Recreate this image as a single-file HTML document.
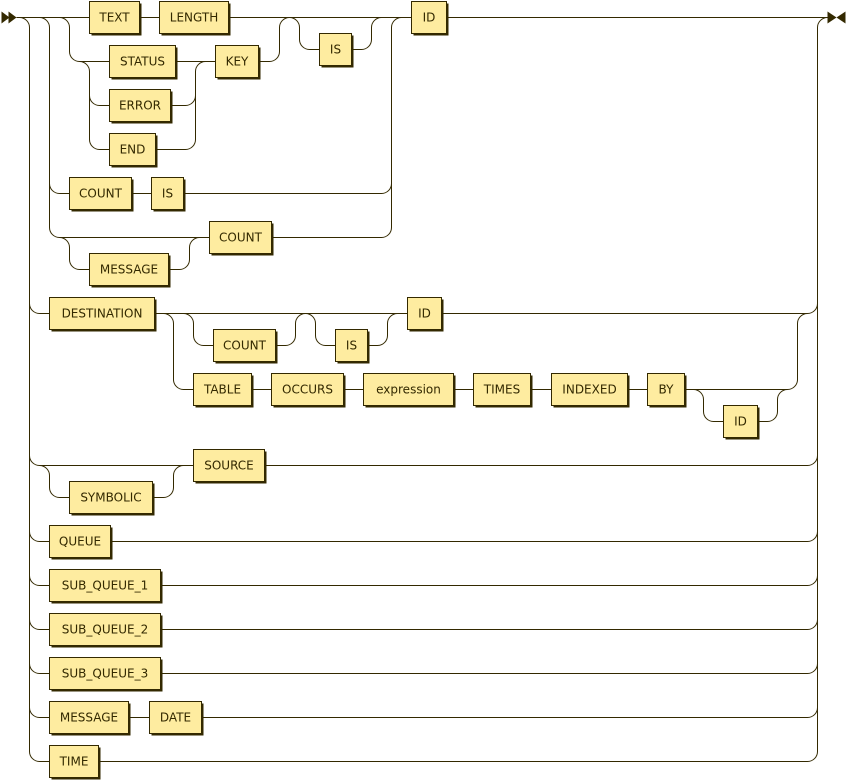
<!DOCTYPE html>
<html><head><meta charset="utf-8"><style>
html,body{margin:0;padding:0;background:#fff;}
svg{display:block;}
.l{fill:none;stroke:#332900;stroke-width:1;}
.b{fill:#feeca0;stroke:#332900;stroke-width:1;}
.s{fill:#332900;}
text{font-family:"DejaVu Sans","Liberation Sans",sans-serif;font-size:12px;fill:#332900;text-anchor:middle;}
</style></head><body>
<svg width="847" height="781" viewBox="0 0 847 781" xmlns="http://www.w3.org/2000/svg">
<g transform="translate(0.5,0.5)">
<polygon class="s" points="1,11 9,17 1,23"/><polygon class="s" points="8,11 16,17 8,23"/>
<polygon class="s" points="827,11 836,17 827,23"/><polygon class="s" points="845,11 836,17 845,23"/>
<path class="l" d="
M16 17 H89 M139 17 H159 M228 17 H411 M446 17 H827
M19 17 a10 10 0 0 1 10 10 V751 a10 10 0 0 0 10 10 H49
M29 303 a10 10 0 0 0 10 10 H49
M29 455 a10 10 0 0 0 10 10 H193
M29 531 a10 10 0 0 0 10 10 H49
M29 575 a10 10 0 0 0 10 10 H49
M29 619 a10 10 0 0 0 10 10 H49
M29 663 a10 10 0 0 0 10 10 H49
M29 707 a10 10 0 0 0 10 10 H49
M807 761 a10 10 0 0 0 10 -10 V27 a10 10 0 0 1 10 -10
M807 313 a10 10 0 0 0 10 -10
M807 465 a10 10 0 0 0 10 -10
M807 541 a10 10 0 0 0 10 -10
M807 585 a10 10 0 0 0 10 -10
M807 629 a10 10 0 0 0 10 -10
M807 673 a10 10 0 0 0 10 -10
M807 717 a10 10 0 0 0 10 -10
M110 541 H807 M160 585 H807 M160 629 H807 M160 673 H807
M128 717 H149 M201 717 H807 M98 761 H807
M264 465 H807
M39 465 a10 10 0 0 1 10 10 V487 a10 10 0 0 0 10 10 H69
M152 497 H163 a10 10 0 0 0 10 -10 V475 a10 10 0 0 1 10 -10
M154 313 H407 M441 313 H807
M183 313 a10 10 0 0 1 10 10 V335 a10 10 0 0 0 10 10 H213
M275 345 H285 a10 10 0 0 0 10 -10 V323 a10 10 0 0 1 10 -10
M305 313 a10 10 0 0 1 10 10 V335 a10 10 0 0 0 10 10 H335
M367 345 H377 a10 10 0 0 0 10 -10 V323 a10 10 0 0 1 10 -10
M163 313 a10 10 0 0 1 10 10 V379 a10 10 0 0 0 10 10 H193
M251 389 H271 M343 389 H363 M453 389 H473 M530 389 H551 M627 389 H647
M684 389 H787 a10 10 0 0 0 10 -10 V323 a10 10 0 0 1 10 -10
M693 389 a10 10 0 0 1 10 10 V411 a10 10 0 0 0 10 10 H723
M757 421 H767 a10 10 0 0 0 10 -10 V399 a10 10 0 0 1 10 -10
M39 17 a10 10 0 0 1 10 10 V227 a10 10 0 0 0 10 10 H209
M49 183 a10 10 0 0 0 10 10 H69
M131 193 H151 M183 193 H381 a10 10 0 0 0 10 -10
M271 237 H381 a10 10 0 0 0 10 -10 V27 a10 10 0 0 1 10 -10
M59 237 a10 10 0 0 1 10 10 V259 a10 10 0 0 0 10 10 H89
M168 269 H179 a10 10 0 0 0 10 -10 V247 a10 10 0 0 1 10 -10
M59 17 a10 10 0 0 1 10 10 V51 a10 10 0 0 0 10 10 H109
M175 61 H215
M258 61 H269 a10 10 0 0 0 10 -10 V27 a10 10 0 0 1 10 -10
M79 61 a10 10 0 0 1 10 10 V139 a10 10 0 0 0 10 10 H109
M89 95 a10 10 0 0 0 10 10 H109
M155 149 H185 a10 10 0 0 0 10 -10 V71 a10 10 0 0 1 10 -10
M170 105 H185 a10 10 0 0 0 10 -10
M289 17 a10 10 0 0 1 10 10 V39 a10 10 0 0 0 10 10 H319
M351 49 H361 a10 10 0 0 0 10 -10 V27 a10 10 0 0 1 10 -10
"/>
<!-- boxes: shadow, box, text -->
<rect class="s" x="91" y="3" width="50" height="32"/><rect class="b" x="89" y="1" width="50" height="32"/><text x="114" y="21">TEXT</text>
<rect class="s" x="161" y="3" width="69" height="32"/><rect class="b" x="159" y="1" width="69" height="32"/><text x="193.5" y="21">LENGTH</text>
<rect class="s" x="321" y="35" width="32" height="32"/><rect class="b" x="319" y="33" width="32" height="32"/><text x="335" y="53">IS</text>
<rect class="s" x="413" y="3" width="35" height="32"/><rect class="b" x="411" y="1" width="35" height="32"/><text x="428.5" y="21">ID</text>
<rect class="s" x="111" y="47" width="66" height="32"/><rect class="b" x="109" y="45" width="66" height="32"/><text x="142" y="65">STATUS</text>
<rect class="s" x="217" y="47" width="43" height="32"/><rect class="b" x="215" y="45" width="43" height="32"/><text x="236.5" y="65">KEY</text>
<rect class="s" x="111" y="91" width="61" height="32"/><rect class="b" x="109" y="89" width="61" height="32"/><text x="139.5" y="109">ERROR</text>
<rect class="s" x="111" y="135" width="46" height="32"/><rect class="b" x="109" y="133" width="46" height="32"/><text x="132" y="153">END</text>
<rect class="s" x="71" y="179" width="62" height="32"/><rect class="b" x="69" y="177" width="62" height="32"/><text x="100" y="197">COUNT</text>
<rect class="s" x="153" y="179" width="32" height="32"/><rect class="b" x="151" y="177" width="32" height="32"/><text x="167" y="197">IS</text>
<rect class="s" x="211" y="223" width="62" height="32"/><rect class="b" x="209" y="221" width="62" height="32"/><text x="240" y="241">COUNT</text>
<rect class="s" x="91" y="255" width="79" height="32"/><rect class="b" x="89" y="253" width="79" height="32"/><text x="128.5" y="273">MESSAGE</text>
<rect class="s" x="51" y="299" width="105" height="32"/><rect class="b" x="49" y="297" width="105" height="32"/><text x="101.5" y="317">DESTINATION</text>
<rect class="s" x="215" y="331" width="62" height="32"/><rect class="b" x="213" y="329" width="62" height="32"/><text x="244" y="349">COUNT</text>
<rect class="s" x="337" y="331" width="32" height="32"/><rect class="b" x="335" y="329" width="32" height="32"/><text x="351" y="349">IS</text>
<rect class="s" x="409" y="299" width="34" height="32"/><rect class="b" x="407" y="297" width="34" height="32"/><text x="424" y="317">ID</text>
<rect class="s" x="195" y="375" width="58" height="32"/><rect class="b" x="193" y="373" width="58" height="32"/><text x="222" y="393">TABLE</text>
<rect class="s" x="273" y="375" width="72" height="32"/><rect class="b" x="271" y="373" width="72" height="32"/><text x="307" y="393">OCCURS</text>
<rect class="s" x="365" y="375" width="90" height="32"/><rect class="b" x="363" y="373" width="90" height="32"/><text x="408" y="393">expression</text>
<rect class="s" x="475" y="375" width="57" height="32"/><rect class="b" x="473" y="373" width="57" height="32"/><text x="501.5" y="393">TIMES</text>
<rect class="s" x="553" y="375" width="76" height="32"/><rect class="b" x="551" y="373" width="76" height="32"/><text x="589" y="393">INDEXED</text>
<rect class="s" x="649" y="375" width="37" height="32"/><rect class="b" x="647" y="373" width="37" height="32"/><text x="665.5" y="393">BY</text>
<rect class="s" x="725" y="407" width="34" height="32"/><rect class="b" x="723" y="405" width="34" height="32"/><text x="740" y="425">ID</text>
<rect class="s" x="195" y="451" width="71" height="32"/><rect class="b" x="193" y="449" width="71" height="32"/><text x="228.5" y="469">SOURCE</text>
<rect class="s" x="71" y="483" width="83" height="32"/><rect class="b" x="69" y="481" width="83" height="32"/><text x="110.5" y="501">SYMBOLIC</text>
<rect class="s" x="51" y="527" width="61" height="32"/><rect class="b" x="49" y="525" width="61" height="32"/><text x="79.5" y="545">QUEUE</text>
<rect class="s" x="51" y="571" width="111" height="32"/><rect class="b" x="49" y="569" width="111" height="32"/><text x="104.5" y="589">SUB_QUEUE_1</text>
<rect class="s" x="51" y="615" width="111" height="32"/><rect class="b" x="49" y="613" width="111" height="32"/><text x="104.5" y="633">SUB_QUEUE_2</text>
<rect class="s" x="51" y="659" width="111" height="32"/><rect class="b" x="49" y="657" width="111" height="32"/><text x="104.5" y="677">SUB_QUEUE_3</text>
<rect class="s" x="51" y="703" width="79" height="32"/><rect class="b" x="49" y="701" width="79" height="32"/><text x="88.5" y="721">MESSAGE</text>
<rect class="s" x="151" y="703" width="52" height="32"/><rect class="b" x="149" y="701" width="52" height="32"/><text x="175" y="721">DATE</text>
<rect class="s" x="51" y="747" width="49" height="32"/><rect class="b" x="49" y="745" width="49" height="32"/><text x="73.5" y="765">TIME</text>
</g>
</svg>
</body></html>
